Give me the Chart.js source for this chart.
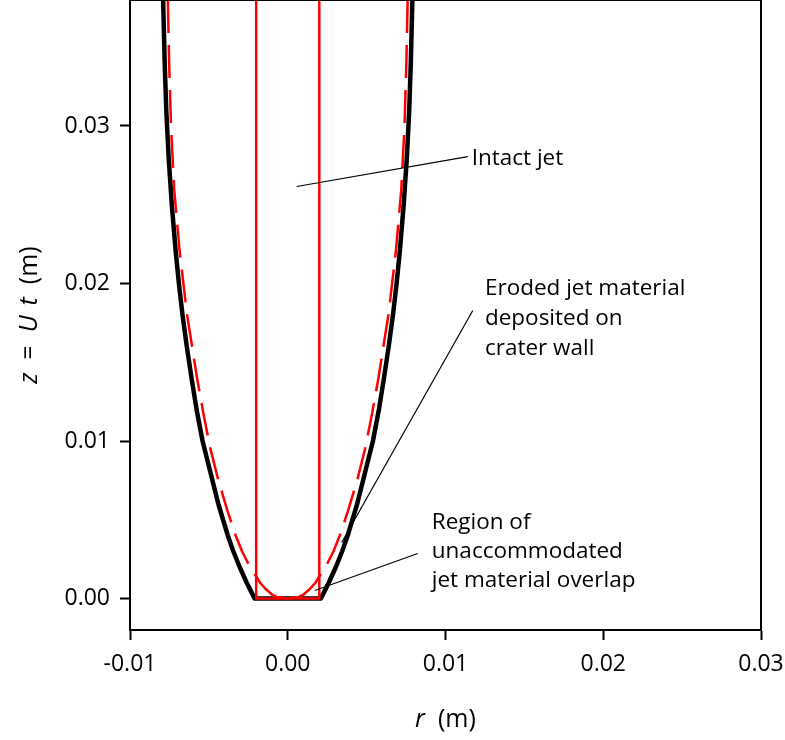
<!DOCTYPE html>
<html>
<head>
<meta charset="utf-8">
<script src="https://cdn.jsdelivr.net/npm/chart.js@4/dist/chart.umd.min.js"></script>
<style>
  html, body { margin: 0; padding: 0; background: #ffffff; }
  #wrap { width: 785px; height: 740px; }
</style>
</head>
<body>
<div id="wrap"><canvas id="c" width="785" height="740"></canvas></div>
<script>
// ---------------- data ----------------
// crater wall profile (black), right half; left half is its mirror
const craterZ = [0, 0.0005, 0.001, 0.002, 0.003, 0.004, 0.005, 0.006, 0.008, 0.010, 0.012, 0.014, 0.016, 0.018, 0.020, 0.022, 0.025, 0.028, 0.031, 0.034, 0.038];
const craterR = [0.0021, 0.00235, 0.0026, 0.00305, 0.00345, 0.0038, 0.0041, 0.0044, 0.0049, 0.0054, 0.00578, 0.0061, 0.0064, 0.00667, 0.0069, 0.0071, 0.00735, 0.00755, 0.0077, 0.0078, 0.0079];

// eroded-jet deposit profile (red), right half
const depositZ = [0, 0.0001, 0.00025, 0.0006, 0.001, 0.0014, 0.002, 0.003, 0.004, 0.0055, 0.0075, 0.0095, 0.0115, 0.014, 0.018, 0.022, 0.026, 0.030, 0.034, 0.038];
const depositR = [0, 0.0007, 0.0010, 0.0014, 0.00175, 0.0020, 0.0024, 0.0029, 0.0033, 0.0038, 0.0044, 0.0049, 0.0053, 0.00575, 0.00638, 0.00685, 0.0072, 0.0074, 0.00752, 0.0076];

// intact jet (red rectangle): radius and height range
const jetRadius = 0.002;
const jetZ = [0, 0.038];

// leader lines [r, z]
const leaderIntact = [[0.00057, 0.02616], [0.01141, 0.02806]];
const leaderEroded = [[0.00342, 0.00356], [0.01173, 0.01829]];
const leaderRegion = [[0.00171, 0.00051], [0.00824, 0.00286]];

// annotation texts
const textIntact = ["Intact jet"];
const textEroded = ["Eroded jet material", "deposited on", "crater wall"];
const textRegion = ["Region of", "unaccommodated", "jet material overlap"];

// ticks
const xTickValues = [-0.01, 0.00, 0.01, 0.02, 0.03];
const xTickLabels = ["-0.01", "0.00", "0.01", "0.02", "0.03"];
const yTickValues = [0.00, 0.01, 0.02, 0.03];
const yTickLabels = ["0.00", "0.01", "0.02", "0.03"];

// ---------------- build datasets ----------------
const FONT = "'Open Sans', 'DejaVu Sans', sans-serif";
const RED = '#ff0000';

const craterPts = [];
for (let i = craterZ.length - 1; i >= 0; i--) craterPts.push({x: -craterR[i], y: craterZ[i]});
for (let i = 0; i < craterZ.length; i++) craterPts.push({x: craterR[i], y: craterZ[i]});

const innerPts = [];
for (let i = depositZ.length - 1; i >= 0; i--) if (depositR[i] <= jetRadius) innerPts.push({x: -depositR[i], y: depositZ[i]});
for (let i = 1; i < depositZ.length; i++) if (depositR[i] <= jetRadius) innerPts.push({x: depositR[i], y: depositZ[i]});

const dashLeft = [], dashRight = [];
for (let i = depositZ.length - 1; i >= 0; i--) {
  if (depositR[i] >= jetRadius) {
    dashLeft.push({x: -depositR[i], y: depositZ[i]});
    dashRight.push({x: depositR[i], y: depositZ[i]});
  }
}

const jetPts = [
  {x: -jetRadius, y: jetZ[1]}, {x: -jetRadius, y: jetZ[0]},
  {x: jetRadius, y: jetZ[0]}, {x: jetRadius, y: jetZ[1]}
];

const toPts = a => a.map(p => ({x: p[0], y: p[1]}));

function lineDs(data, color, width, dash, order) {
  return { data, borderColor: color, backgroundColor: color, borderWidth: width,
           borderDash: dash || [], showLine: true, pointRadius: 0, fill: false,
           tension: 0, order: order, borderCapStyle: 'butt', borderJoinStyle: 'round' };
}

const datasets = [
  lineDs(toPts(leaderIntact), '#000', 1.2, null, 0),
  lineDs(toPts(leaderEroded), '#000', 1.2, null, 0),
  lineDs(toPts(leaderRegion), '#000', 1.2, null, 0),
  lineDs(jetPts, RED, 2.5, null, 1),
  lineDs(innerPts, RED, 2.5, null, 1),
  lineDs(dashLeft, RED, 2.5, [33, 12], 1),
  lineDs(dashRight, RED, 2.5, [33, 12], 1),
  lineDs(craterPts, '#000', 4.5, null, 2)
];

// ---------------- plugins ----------------
function drawRich(ctx, parts, cx, cy) {
  let total = 0;
  parts.forEach(p => { if (p.gap) total += p.gap; else { ctx.font = p.font; total += ctx.measureText(p.t).width; } });
  let x = cx - total / 2;
  ctx.textAlign = 'left';
  ctx.textBaseline = 'middle';
  parts.forEach(p => {
    if (p.gap) { x += p.gap; return; }
    ctx.font = p.font; ctx.fillText(p.t, x, cy); x += ctx.measureText(p.t).width;
  });
}

const annotations = [
  {lines: textIntact, r: 0.01166, z: 0.02794, step: 30},
  {lines: textEroded, r: 0.01250, z: 0.01968, step: 30},
  {lines: textRegion, r: 0.00913, z: 0.00483, step: 29}
];

const extras = {
  id: 'extras',
  afterDraw(chart) {
    const ctx = chart.ctx, a = chart.chartArea;
    const xs = chart.scales.x, ys = chart.scales.y;
    ctx.save();
    // frame on top and right
    ctx.strokeStyle = '#000';
    ctx.lineWidth = 2;
    ctx.beginPath();
    ctx.moveTo(a.left, a.top);
    ctx.lineTo(a.right, a.top);
    ctx.lineTo(a.right, a.bottom);
    ctx.stroke();
    // annotation texts
    ctx.fillStyle = '#000';
    ctx.font = '22.5px ' + FONT;
    ctx.textAlign = 'left';
    ctx.textBaseline = 'middle';
    annotations.forEach(an => {
      const x = xs.getPixelForValue(an.r);
      const y0 = ys.getPixelForValue(an.z);
      an.lines.forEach((t, i) => ctx.fillText(t, x, y0 + i * an.step));
    });
    // axis titles
    const n = '25px ' + FONT, it = 'italic 25px ' + FONT;
    drawRich(ctx, [{t: 'r', font: it}, {t: '  (m)', font: n}], (a.left + a.right) / 2, 720);
    ctx.translate(30, 315);
    ctx.rotate(-Math.PI / 2);
    drawRich(ctx, [{t: 'z', font: it}, {gap: 13}, {t: '=', font: n}, {gap: 13}, {t: 'U', font: it},
                   {gap: 10}, {t: 't', font: it}, {gap: 13}, {t: '(m)', font: n}], 0, 0);
    ctx.restore();
  }
};

const zeroPad = s => { s.paddingTop = 0; s.paddingBottom = 0; s.paddingLeft = 0; s.paddingRight = 0; };

// ---------------- chart ----------------
new Chart(document.getElementById('c'), {
  type: 'scatter',
  data: { datasets },
  options: {
    responsive: false,
    animation: false,
    devicePixelRatio: 1,
    layout: { padding: { top: 0, right: 24, left: 0, bottom: 0 } },
    plugins: { legend: { display: false }, tooltip: { enabled: false } },
    scales: {
      x: {
        type: 'linear', min: -0.01, max: 0.03,
        afterFit: s => { s.height = 110; zeroPad(s); },
        afterBuildTicks: s => { s.ticks = xTickValues.map(v => ({value: v})); },
        ticks: { callback: (v) => { const i = xTickValues.findIndex(t => Math.abs(t - v) < 1e-9); return i >= 0 ? xTickLabels[i] : ''; },
                 font: { family: FONT, size: 23 }, color: '#000', padding: 11, maxRotation: 0, autoSkip: false },
        grid: { drawOnChartArea: false, drawTicks: true, tickLength: 10, tickColor: '#000', tickWidth: 2 },
        border: { display: true, color: '#000', width: 2 }
      },
      y: {
        type: 'linear', min: -0.002, max: 0.038,
        afterFit: s => { s.width = 130; zeroPad(s); },
        afterBuildTicks: s => { s.ticks = yTickValues.map(v => ({value: v})); },
        ticks: { callback: (v) => { const i = yTickValues.findIndex(t => Math.abs(t - v) < 1e-9); return i >= 0 ? yTickLabels[i] : ''; },
                 font: { family: FONT, size: 23 }, color: '#000', padding: 10, autoSkip: false },
        grid: { drawOnChartArea: false, drawTicks: true, tickLength: 10, tickColor: '#000', tickWidth: 2 },
        border: { display: true, color: '#000', width: 2 }
      }
    }
  },
  plugins: [extras]
});
</script>
</body>
</html>
